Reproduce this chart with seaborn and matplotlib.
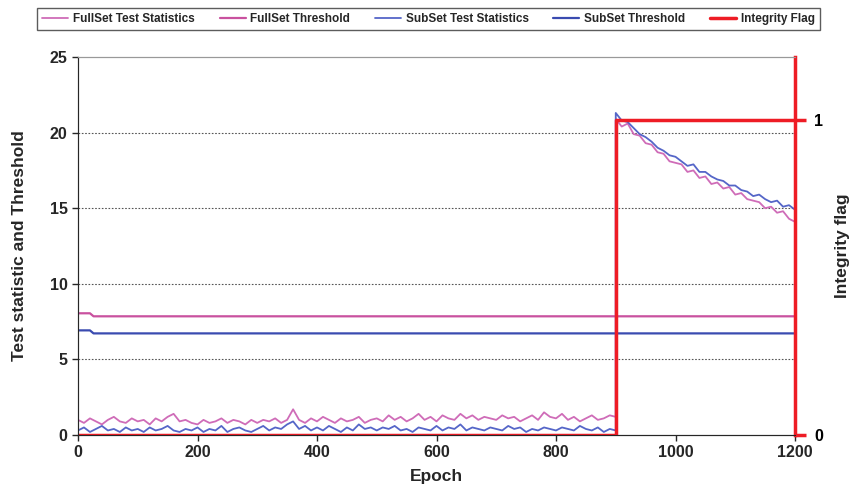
import numpy as np
import pandas as pd
import matplotlib
matplotlib.use("Agg")
import matplotlib.pyplot as plt
import seaborn as sns

# ---------------- data ----------------
pre_epochs = list(range(0, 901, 10))
post_epochs = list(range(900, 1201, 10))

full_pre = [1.0, 0.8, 1.1, 0.9, 0.7, 1.0, 1.2, 0.9, 0.8, 1.1,
            0.9, 1.0, 0.7, 1.1, 0.9, 1.2, 1.4, 0.9, 1.0, 0.8,
            0.7, 1.0, 0.8, 0.9, 1.1, 0.8, 1.0, 0.9, 0.7, 1.0,
            0.8, 1.0, 0.9, 1.1, 0.8, 1.0, 1.7, 1.0, 0.8, 1.1,
            0.9, 1.2, 1.0, 0.8, 1.1, 0.9, 1.0, 1.2, 0.8, 1.0,
            1.1, 0.9, 1.3, 1.0, 1.2, 0.9, 1.1, 1.4, 1.0, 1.2,
            0.9, 1.3, 1.1, 1.0, 1.4, 1.1, 1.3, 1.0, 1.2, 1.1,
            1.0, 1.3, 1.1, 1.2, 0.9, 1.1, 1.3, 1.0, 1.5, 1.2,
            1.1, 1.4, 1.0, 1.2, 0.9, 1.1, 1.3, 1.0, 1.1, 1.3,
            1.2]
full_post = [20.9, 20.4, 20.6, 19.9, 19.8, 19.3, 19.2, 18.7, 18.6, 18.1,
             18.0, 17.9, 17.4, 17.5, 17.0, 17.1, 16.6, 16.7, 16.3, 16.4,
             15.9, 16.0, 15.6, 15.5, 15.4, 15.0, 15.1, 14.7, 14.8, 14.3,
             14.1]
sub_pre = [0.3, 0.5, 0.2, 0.4, 0.6, 0.3, 0.4, 0.2, 0.5, 0.3,
           0.4, 0.2, 0.5, 0.3, 0.4, 0.6, 0.3, 0.2, 0.4, 0.3,
           0.5, 0.2, 0.4, 0.3, 0.6, 0.2, 0.4, 0.5, 0.3, 0.2,
           0.4, 0.6, 0.3, 0.5, 0.4, 0.7, 0.9, 0.4, 0.6, 0.3,
           0.5, 0.3, 0.6, 0.4, 0.2, 0.5, 0.3, 0.7, 0.4, 0.5,
           0.3, 0.5, 0.4, 0.6, 0.3, 0.4, 0.2, 0.5, 0.4, 0.3,
           0.6, 0.3, 0.5, 0.4, 0.7, 0.3, 0.5, 0.4, 0.3, 0.5,
           0.4, 0.3, 0.6, 0.4, 0.5, 0.2, 0.4, 0.3, 0.5, 0.4,
           0.3, 0.5, 0.4, 0.3, 0.6, 0.4, 0.3, 0.5, 0.2, 0.4,
           0.3]
sub_post = [21.3, 20.8, 20.7, 20.3, 19.9, 19.7, 19.4, 19.0, 18.8, 18.5,
            18.4, 18.1, 17.8, 17.9, 17.4, 17.4, 17.1, 16.9, 16.8, 16.5,
            16.5, 16.2, 16.1, 15.8, 15.9, 15.6, 15.4, 15.5, 15.1, 15.2,
            14.9]
test_epochs = pre_epochs + post_epochs
full_test = full_pre + full_post
sub_test = sub_pre + sub_post

thr_epochs = [0, 20, 26, 1200]
full_thr = [8.05, 8.05, 7.85, 7.85]
sub_thr = [6.92, 6.92, 6.72, 6.72]

flag_epochs = [0, 900, 900, 1200]
flag_vals = [0, 0, 1, 1]

x_ticks = [0, 200, 400, 600, 800, 1000, 1200]
y_ticks = [0, 5, 10, 15, 20, 25]
flag_ticks = [0, 1]

# ---------------- style ----------------
sns.set_style("ticks")
plt.rcParams["font.family"] = ["Liberation Sans", "DejaVu Sans"]
plt.rcParams["font.weight"] = "bold"

c_full_test = "#cf6cb8"
c_full_thr = "#c9519f"
c_sub_test = "#5566c8"
c_sub_thr = "#3a4bb0"
c_flag = "#ee1c25"

fig = plt.figure(figsize=(8.57, 5.0), dpi=100)
ax = fig.add_axes([78 / 857, 1 - 435 / 500, (795 - 78) / 857, (435 - 57) / 500])

sns.lineplot(x=test_epochs, y=full_test, ax=ax, color=c_full_test, lw=1.3,
             label="FullSet Test Statistics", sort=False, estimator=None)
sns.lineplot(x=thr_epochs, y=full_thr, ax=ax, color=c_full_thr, lw=1.6,
             label="FullSet Threshold", sort=False, estimator=None)
sns.lineplot(x=test_epochs, y=sub_test, ax=ax, color=c_sub_test, lw=1.3,
             label="SubSet Test Statistics", sort=False, estimator=None)
sns.lineplot(x=thr_epochs, y=sub_thr, ax=ax, color=c_sub_thr, lw=1.6,
             label="SubSet Threshold", sort=False, estimator=None)

ax.set_xlim(0, 1200)
ax.set_ylim(0, 25)
ax.set_xticks(x_ticks)
ax.set_yticks(y_ticks)
ax.tick_params(axis="both", labelsize=11.5, direction="out", length=4, width=1)
for lab in ax.get_xticklabels() + ax.get_yticklabels():
    lab.set_fontweight("bold")
for yv in y_ticks[1:-1]:
    ax.axhline(yv, color="#555555", lw=0.8, ls=(0, (1.5, 1.5)), zorder=0)
ax.set_xlabel("Epoch", fontsize=12.5, fontweight="bold", labelpad=6)
ax.set_ylabel("Test statistic and Threshold", fontsize=12.5, fontweight="bold", labelpad=16)
ax.spines["top"].set_color("#999999")
ax.spines["left"].set_color("#555555")
ax.spines["bottom"].set_color("#333333")

ax2 = ax.twinx()
sns.lineplot(x=flag_epochs, y=flag_vals, ax=ax2, color=c_flag, lw=2.5,
             label="Integrity Flag", sort=False, estimator=None)
ax2.set_ylim(0, 25 / 20.83)
ax2.set_yticks(flag_ticks)
ax2.tick_params(axis="y", labelsize=11.5, colors=c_flag, labelcolor="black",
                direction="out", length=8, width=2.5, pad=6)
for lab in ax2.get_yticklabels():
    lab.set_fontweight("bold")
ax2.spines["right"].set_color(c_flag)
ax2.spines["right"].set_linewidth(2.5)
ax2.spines["top"].set_color("#999999")
ax2.set_ylabel("Integrity flag", fontsize=12.5, fontweight="bold", labelpad=8)
ax2.set_xlim(0, 1200)

h1, l1 = ax.get_legend_handles_labels()
h2, l2 = ax2.get_legend_handles_labels()
ax.get_legend().remove()
ax2.get_legend().remove()
leg = fig.legend(h1 + h2, l1 + l2, loc="center", bbox_to_anchor=(0.5, 0.962),
                 ncol=5, fontsize=8.5, frameon=True, fancybox=False,
                 handlelength=2.2, columnspacing=2.1, handletextpad=0.4,
                 borderpad=0.45)
leg.get_frame().set_edgecolor("#333333")
leg.get_frame().set_linewidth(1.0)
for t in leg.get_texts():
    t.set_fontweight("bold")

fig.savefig("out.png", dpi=100)
